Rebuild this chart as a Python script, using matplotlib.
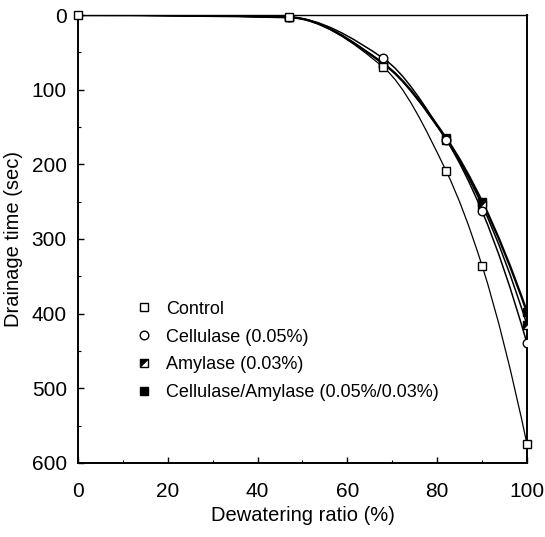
import matplotlib
matplotlib.use("Agg")
import matplotlib.pyplot as plt
import numpy as np
from matplotlib.path import Path
from matplotlib.patches import PathPatch
from matplotlib.ticker import MultipleLocator
from matplotlib.legend_handler import HandlerTuple

plt.rcParams["font.family"] = ["Liberation Sans", "DejaVu Sans"]

# --- data ---
dewatering = [0, 47, 68, 82, 90, 100]
control = [0, 3, 70, 209, 336, 575]
cellulase = [0, 3, 58, 167, 263, 440]
amylase = [0, 3, 65, 167, 255, 415]
cell_amy = [0, 3, 65, 165, 250, 398]

labels = ["Control", "Cellulase (0.05%)", "Amylase (0.03%)",
          "Cellulase/Amylase (0.05%/0.03%)"]


def pchip_slopes(x, y):
    # monotone (Fritsch-Carlson) tangents, used only to shape the curve
    x = np.asarray(x, float)
    y = np.asarray(y, float)
    h = np.diff(x)
    d = np.diff(y) / h
    m = np.zeros_like(x)
    for k in range(1, len(x) - 1):
        if d[k - 1] * d[k] <= 0:
            m[k] = 0
        else:
            w1 = 2 * h[k] + h[k - 1]
            w2 = h[k] + 2 * h[k - 1]
            m[k] = (w1 + w2) / (w1 / d[k - 1] + w2 / d[k])
    m[0] = ((2 * h[0] + h[1]) * d[0] - h[0] * d[1]) / (h[0] + h[1])
    if np.sign(m[0]) != np.sign(d[0]):
        m[0] = 0
    m[-1] = ((2 * h[-1] + h[-2]) * d[-1] - h[-1] * d[-2]) / (h[-1] + h[-2])
    if np.sign(m[-1]) != np.sign(d[-1]):
        m[-1] = 0
    return m


def smooth_path(x, y):
    m = pchip_slopes(x, y)
    verts = [(x[0], y[0])]
    codes = [Path.MOVETO]
    for i in range(len(x) - 1):
        h = x[i + 1] - x[i]
        verts += [(x[i] + h / 3, y[i] + m[i] * h / 3),
                  (x[i + 1] - h / 3, y[i + 1] - m[i + 1] * h / 3),
                  (x[i + 1], y[i + 1])]
        codes += [Path.CURVE4] * 3
    return Path(verts, codes)


fig = plt.figure(figsize=(5.45, 5.37), dpi=100)
ax = fig.add_axes([0.143, 0.138, 0.824, 0.834])

series = [
    (cell_amy, 1.7),
    (amylase, 1.1),
    (cellulase, 1.1),
    (control, 0.9),
]
for vals, lw in series:
    ax.add_patch(PathPatch(smooth_path(dewatering, vals), fill=False,
                           edgecolor="black", lw=lw, zorder=2))

ms = 6.2
mew = 1.0
tri = [(-1, 1), (1, 1), (-1, -1), (-1, 1)]

h_ca, = ax.plot(dewatering[1:], cell_amy[1:], ls="none", marker="s", ms=ms,
                mfc="black", mec="black", mew=mew, zorder=3)
h_am1, = ax.plot(dewatering[1:], amylase[1:], ls="none", marker="s", ms=ms,
                 mfc="white", mec="black", mew=mew, zorder=4)
h_am2, = ax.plot(dewatering[1:], amylase[1:], ls="none", marker=tri, ms=ms,
                 mfc="black", mec="black", mew=0.3, zorder=4)
h_ce, = ax.plot(dewatering[1:], cellulase[1:], ls="none", marker="o", ms=ms,
                mfc="white", mec="black", mew=mew, zorder=5)
h_co, = ax.plot(dewatering, control, ls="none", marker="s", ms=ms,
                mfc="white", mec="black", mew=mew, zorder=6, clip_on=False)

ax.set_xlim(0, 100)
ax.set_ylim(600, 0)
ax.xaxis.set_major_locator(MultipleLocator(20))
ax.xaxis.set_minor_locator(MultipleLocator(10))
ax.yaxis.set_major_locator(MultipleLocator(100))
ax.yaxis.set_minor_locator(MultipleLocator(50))
ax.tick_params(which="both", direction="in", top=False, right=False,
               labelsize=15)
ax.tick_params(axis="x", which="major", length=4, width=1, pad=14)
ax.tick_params(axis="y", which="major", length=4, width=1, pad=8)
ax.tick_params(which="minor", length=2.5, width=0.8)
for side in ["left", "bottom", "right"]:
    ax.spines[side].set_linewidth(1.4)
ax.spines["top"].set_linewidth(1.0)

ax.set_xlabel("Dewatering ratio (%)", fontsize=14.5, labelpad=3)
ax.set_ylabel("Drainage time (sec)", fontsize=14.5, labelpad=6)

leg = ax.legend([h_co, h_ce, (h_am1, h_am2), h_ca], labels,
                handler_map={tuple: HandlerTuple(ndivide=1, pad=0)},
                loc="upper left", bbox_to_anchor=(0.135, 0.362),
                frameon=False, fontsize=13, handlelength=0.6,
                handletextpad=0.9, labelspacing=0.6, borderpad=0,
                borderaxespad=0, numpoints=1)

fig.savefig("out.png", dpi=100)
